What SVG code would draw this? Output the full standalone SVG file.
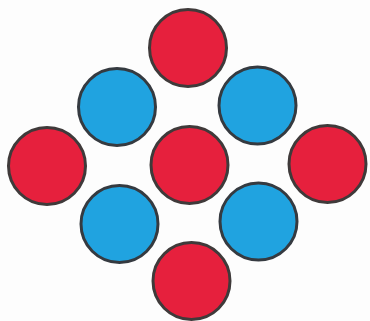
<svg xmlns="http://www.w3.org/2000/svg" width="370" height="321" viewBox="0 0 370 321">
<style>
.r{fill:#E6203D;stroke:#3f3a3a;stroke-width:3}
.b{fill:#20A3E0;stroke:#353a40;stroke-width:3}
</style>
<rect width="370" height="321" fill="#fdfdfd"/>
<g id="red-top"><circle class="r" cx="188" cy="48" r="38.5"/></g>
<g id="blue-top-left"><circle class="b" cx="117" cy="107" r="38.5"/></g>
<g id="blue-top-right"><circle class="b" cx="257.5" cy="105.5" r="38.5"/></g>
<g id="red-left"><circle class="r" cx="47" cy="166" r="38.5"/></g>
<g id="red-center"><circle class="r" cx="189.5" cy="165" r="38.5"/></g>
<g id="red-right"><circle class="r" cx="327.5" cy="164" r="38.5"/></g>
<g id="blue-bottom-left"><circle class="b" cx="119.5" cy="224" r="38.5"/></g>
<g id="blue-bottom-right"><circle class="b" cx="258.5" cy="221.5" r="38.5"/></g>
<g id="red-bottom"><circle class="r" cx="191.5" cy="281" r="38.5"/></g>
<g id="connectors"/>
</svg>
